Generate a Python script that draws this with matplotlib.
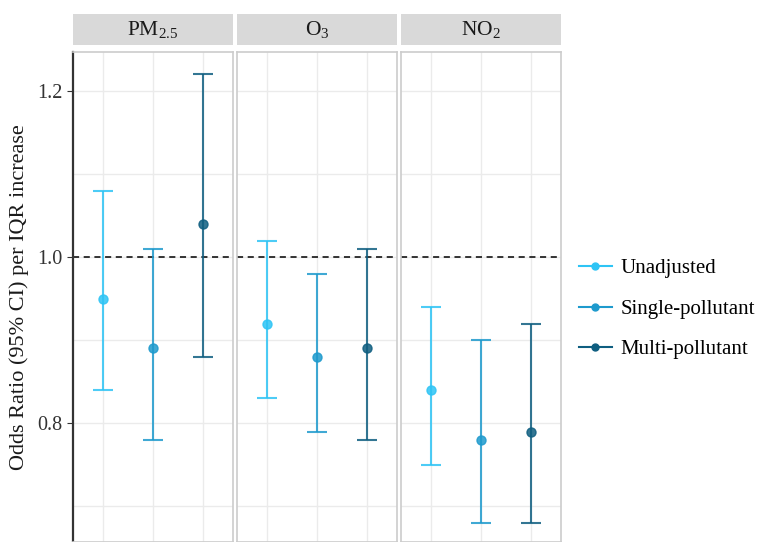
import matplotlib
matplotlib.use("Agg")
import matplotlib.pyplot as plt
from matplotlib.lines import Line2D

plt.rcParams['font.family'] = ['Liberation Serif', 'DejaVu Serif']
plt.rcParams['mathtext.fontset'] = 'custom'
plt.rcParams['mathtext.rm'] = 'Liberation Serif'
plt.rcParams['mathtext.it'] = 'Liberation Serif:italic'
plt.rcParams['mathtext.bf'] = 'Liberation Serif:bold'

pollutants = [r'PM$_{\mathrm{2.5}}$', r'O$_{\mathrm{3}}$', r'NO$_{\mathrm{2}}$']
models = ['Unadjusted', 'Single-pollutant', 'Multi-pollutant']
colors = ['#2ec4f5', '#1e9acd', '#0f5e80']

odds = [[0.95, 0.89, 1.04],
        [0.92, 0.88, 0.89],
        [0.84, 0.78, 0.79]]
lower = [[0.84, 0.78, 0.88],
         [0.83, 0.79, 0.78],
         [0.75, 0.68, 0.68]]
upper = [[1.08, 1.01, 1.22],
         [1.02, 0.98, 1.01],
         [0.94, 0.90, 0.92]]

fig = plt.figure(figsize=(7.67, 5.42), dpi=100)
W, H = 767, 542
lefts = [73, 237, 401]
pw = 160
top = 52

for i, name in enumerate(pollutants):
    x0 = lefts[i] / W
    ax = fig.add_axes([x0, 0, pw / W, 1 - top / H])
    for j in range(3):
        xj = j + 1
        ax.errorbar(xj, odds[i][j],
                    yerr=[[odds[i][j] - lower[i][j]], [upper[i][j] - odds[i][j]]],
                    fmt='o', color=colors[j], ecolor=colors[j], elinewidth=1.5,
                    capsize=7, capthick=1.5, markersize=6.5, alpha=0.85, zorder=3)
    ax.axhline(1.0, color='black', linestyle=(0, (4, 3)), linewidth=1.1, zorder=2)
    ax.set_xlim(0.4, 3.6)
    ax.set_ylim(0.657, 1.247)
    ax.set_xticks([1, 2, 3])
    ax.set_yticks([0.8, 1.0, 1.2])
    ax.set_yticks([0.7, 0.9, 1.1], minor=True)
    ax.grid(True, which='major', color='#ebebeb', linewidth=1.0)
    ax.grid(True, which='minor', axis='y', color='#ebebeb', linewidth=1.0)
    ax.set_axisbelow(True)
    ax.tick_params(axis='x', length=0, labelbottom=False)
    ax.tick_params(axis='y', which='minor', length=0)
    for s in ax.spines.values():
        s.set_color('#cccccc')
        s.set_linewidth(1.2)
    if i == 0:
        ax.spines['left'].set_color('#333333')
        ax.spines['left'].set_linewidth(1.6)
        ax.set_yticklabels(['0.8', '1.0', '1.2'], fontsize=14.5, color='#333333')
        ax.tick_params(axis='y', which='major', length=4, color='#333333')
        ax.set_ylabel('Odds Ratio (95% CI) per IQR increase', fontsize=16,
                      color='#1a1a1a', labelpad=6)
    else:
        ax.tick_params(axis='y', which='major', length=0, labelleft=False)

    sx = fig.add_axes([x0, 1 - 45 / H, pw / W, 31 / H])
    sx.set_facecolor('#d9d9d9')
    sx.set_xticks([])
    sx.set_yticks([])
    for s in sx.spines.values():
        s.set_visible(False)
    sx.text(0.5, 0.5, name, ha='center', va='center', fontsize=15.5,
            color='#1a1a1a', transform=sx.transAxes)

handles = [Line2D([0], [0], color=c, marker='o', markersize=5, linewidth=1.5)
           for c in colors]
fig.legend(handles, models, loc='center left', bbox_to_anchor=(560 / W, 1 - 309 / H),
           frameon=False, fontsize=15, handlelength=1.6, labelspacing=1.0,
           handletextpad=0.4)

fig.savefig('out.png', dpi=100)
